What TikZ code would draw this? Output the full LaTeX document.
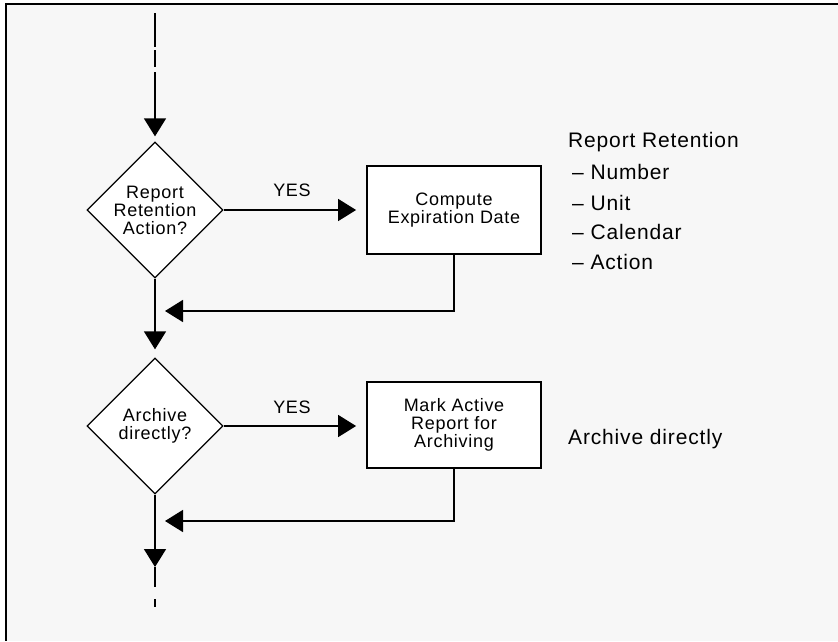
\documentclass[tikz,border=0pt]{standalone}
\usepackage{fontspec}
\setmainfont{Liberation Sans}
\newfontfamily\diafont[LetterSpace=4]{Liberation Sans}
\usetikzlibrary{shapes.geometric,arrows.meta}
\definecolor{bggray}{HTML}{F7F7F7}
\tikzset{
  smalltxt/.style={font=\diafont\fontsize{18}{18}\selectfont},
  bigtxt/.style={font=\diafont\fontsize{21}{22}\selectfont, anchor=west, inner sep=0pt},
  decision/.style={diamond, draw, fill=white, line width=1.3pt, minimum width=136pt, minimum height=136pt, inner sep=0pt, align=center, smalltxt},
  process/.style={rectangle, draw, fill=white, line width=1.8pt, minimum width=174pt, align=center, smalltxt},
  arr/.style={-{Triangle[length=18pt,width=22pt]}, line width=1.6pt},
  plain/.style={line width=1.6pt},
}
\begin{document}
\begin{tikzpicture}[x=1pt,y=-1pt]
\useasboundingbox (0,0) rectangle (838,641);
\fill[white] (0,0) rectangle (838,641);
\fill[bggray] (6,4) rectangle (838,641);
\draw[line width=2pt] (5,4) -- (838,4);
\draw[line width=2pt] (6,3) -- (6,641);

\node[decision] (d1) at (155,210) {Report\\Retention\\Action?};
\node[process, minimum height=88pt] (b1) at (454,210) {Compute\\Expiration Date};
\node[decision] (d2) at (155,426) {Archive\\directly?};
\node[process, minimum height=86pt] (b2) at (454,425) {Mark Active\\Report for\\Archiving};

\node[smalltxt] (yes1) at (292,190) {YES};
\node[smalltxt] (yes2) at (292,407) {YES};

\node[bigtxt] (rt0) at (568,142) {Report Retention};
\node[bigtxt] (rt1) at (572,172) {– Number};
\node[bigtxt] (rt2) at (572,203) {– Unit};
\node[bigtxt] (rt3) at (572,232) {– Calendar};
\node[bigtxt] (rt4) at (572,262) {– Action};
\node[bigtxt] (ad) at (568,439) {Archive directly};

\coordinate (top) at (155,13);
\coordinate (j1) at (165,311);
\coordinate (j2) at (165,521);
\coordinate (bot) at (155,567);
\coordinate (botend) at (155,607);

\draw[arr, dash pattern=on 34pt off 3pt on 17pt off 5pt on 400pt] (top) -- (d1.north) [shorten >=5pt];
\draw[arr, shorten >=10pt] (d1.east) -- (d1.east -| b1.west);
\draw[arr] (b1.south) |- (j1);
\draw[arr, shorten >=8pt] (d1.south) -- (d2.north);
\draw[arr, shorten >=10pt] (d2.east) -- (d2.east -| b2.west);
\draw[arr] (b2.south) |- (j2);
\draw[arr] (d2.south) -- (bot);
\draw[plain, dash pattern=on 20pt off 12pt on 9pt off 100pt] (bot) -- (botend);
\end{tikzpicture}
\end{document}
